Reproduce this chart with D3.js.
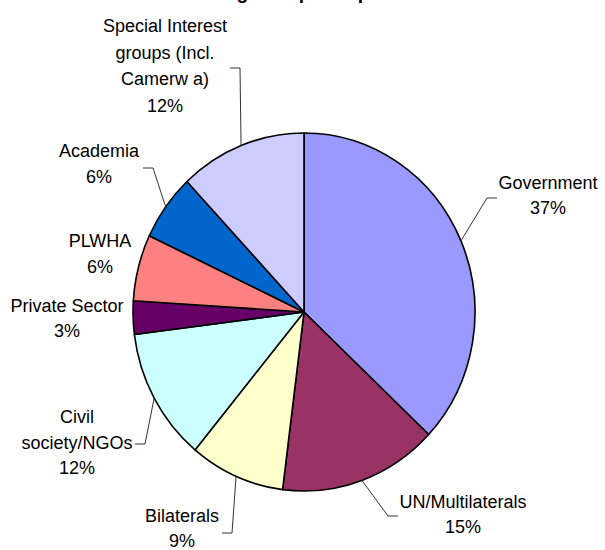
<!DOCTYPE html>
<html>
<head>
<meta charset="utf-8">
<script src="https://cdn.jsdelivr.net/npm/d3@7"></script>
<style>
  html, body { margin: 0; padding: 0; background: #fff; }
  svg { display: block; }
</style>
</head>
<body>
<svg id="chart" width="605" height="550"></svg>
<script>
// ---- data ----
const categories = [
  "Government",
  "UN/Multilaterals",
  "Bilaterals",
  "Civil society/NGOs",
  "Private Sector",
  "PLWHA",
  "Academia",
  "Special Interest groups (Incl. Camerw a)"
];
const values = [37, 15, 9, 12, 3, 6, 6, 12];
const colors = ["#9999FF", "#993366", "#FFFFCC", "#CCFFFF", "#660066", "#FF8080", "#0066CC", "#CCCCFF"];
const titleText = "Working Group Composition";

// ---- layout (label lines, positions, leader elbows) ----
const labelLines = [
  ["Government"],
  ["UN/Multilaterals"],
  ["Bilaterals"],
  ["Civil", "society/NGOs"],
  ["Private Sector"],
  ["PLWHA"],
  ["Academia"],
  ["Special Interest", "groups (Incl.", "Camerw a)"]
];
const labelPos = [
  {x: 548, y: 189, lh: 25},
  {x: 463, y: 508, lh: 25},
  {x: 182, y: 522, lh: 24.5},
  {x: 77,  y: 423, lh: 25.5},
  {x: 67,  y: 312, lh: 25},
  {x: 100, y: 247, lh: 26},
  {x: 99,  y: 157, lh: 26},
  {x: 165, y: 32,  lh: 26.7}
];
// leader: [elbow, end] or null
const leaders = [
  [[487, 198], [497, 198]],
  [[388, 516], [398, 516]],
  [[232, 533], [222, 533]],
  [[145, 444], [135, 444]],
  null,
  null,
  [[153, 168], [143, 168]],
  [[240, 68], [230, 68]]
];

const cx = 304, cy = 312, rx = 171, ry = 179;
const svg = d3.select("#chart");

// title (clipped at top as in reference)
svg.append("text")
  .attr("x", 302).attr("y", -1)
  .attr("text-anchor", "middle")
  .attr("font-family", "Liberation Sans, Arial, sans-serif")
  .attr("font-weight", "bold")
  .attr("font-size", 19)
  .text(titleText);

const total = d3.sum(values);
const pie = d3.pie().sort(null).value(d => d)(values);
const arc = d3.arc().innerRadius(0).outerRadius(rx);

const g = svg.append("g")
  .attr("transform", `translate(${cx},${cy}) scale(1,${ry / rx})`);

g.selectAll("path")
  .data(pie)
  .join("path")
  .attr("d", arc)
  .attr("fill", (d, i) => colors[i])
  .attr("stroke", "#000")
  .attr("stroke-width", 1.6)
  .attr("stroke-linejoin", "round")
  .attr("vector-effect", "non-scaling-stroke");

// leader lines
const fmt = d3.format(".0%");
pie.forEach((d, i) => {
  const L = leaders[i];
  if (!L) return;
  const a = (d.startAngle + d.endAngle) / 2;
  const ex = cx + rx * Math.sin(a);
  const ey = cy - ry * Math.cos(a);
  svg.append("polyline")
    .attr("points", [[ex, ey], L[0], L[1]].map(p => p.join(",")).join(" "))
    .attr("fill", "none")
    .attr("stroke", "#333")
    .attr("stroke-width", 1);
});

// labels
pie.forEach((d, i) => {
  const p = labelPos[i];
  const lines = labelLines[i].concat([fmt(values[i] / total)]);
  const t = svg.append("text")
    .attr("text-anchor", "middle")
    .attr("font-family", "Liberation Sans, Arial, sans-serif")
    .attr("font-size", 18)
    .attr("fill", "#000");
  lines.forEach((ln, k) => {
    t.append("tspan")
      .attr("x", p.x)
      .attr("y", p.y + k * p.lh)
      .text(ln);
  });
});
</script>
</body>
</html>
